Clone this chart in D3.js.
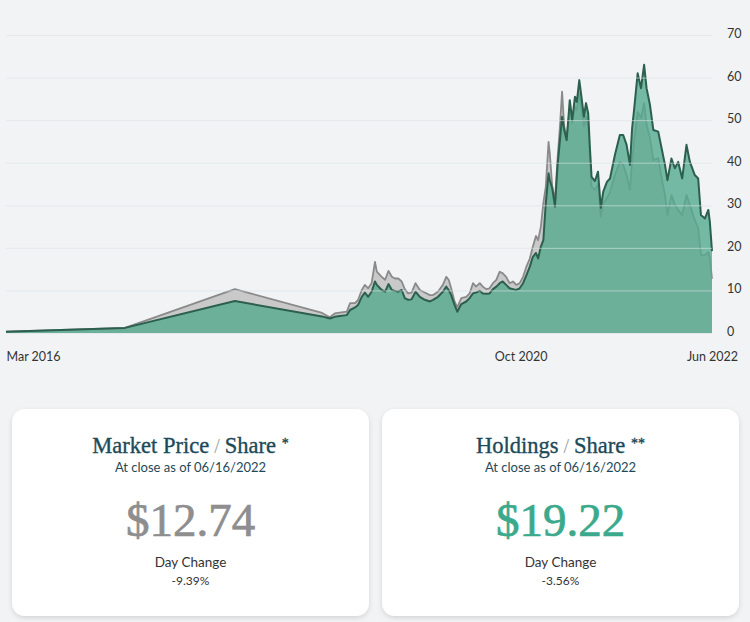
<!DOCTYPE html>
<html>
<head>
<meta charset="utf-8">
<script src="https://cdn.jsdelivr.net/npm/d3@7/dist/d3.min.js"></script>
<style>
  html, body { margin: 0; padding: 0; background: #f1f3f5; }
  svg { display: block; }
  .sans { font-family: Lato, "Open Sans", sans-serif; }
  .serif { font-family: "Liberation Serif", "DejaVu Serif", serif; }
</style>
</head>
<body>
<svg id="chart" width="750" height="622"></svg>
<script>
// ---------- DATA ----------
const dates = [
  "2016-03-01","2017-03-23","2018-03-16","2018-12-25","2019-01-19","2019-02-04","2019-02-20","2019-03-15",
  "2019-03-26","2019-04-11","2019-04-21","2019-05-03","2019-05-13","2019-05-24","2019-06-04","2019-06-15",
  "2019-06-21","2019-07-07","2019-07-18","2019-07-29","2019-08-09","2019-08-19","2019-08-30","2019-09-10",
  "2019-09-20","2019-10-01","2019-10-12","2019-10-25","2019-11-08","2019-11-24","2019-12-11","2019-12-21",
  "2020-01-06","2020-01-22","2020-02-02","2020-02-10","2020-02-18","2020-02-29","2020-03-09","2020-03-22",
  "2020-04-07","2020-04-18","2020-04-29","2020-05-09","2020-05-21","2020-05-31","2020-06-11","2020-06-22",
  "2020-07-03","2020-07-14","2020-07-25","2020-08-04","2020-08-15","2020-08-26","2020-09-06","2020-09-17",
  "2020-09-28","2020-10-09","2020-10-20","2020-10-31","2020-11-10","2020-11-20","2020-11-27","2020-12-06",
  "2020-12-14","2020-12-22","2020-12-31","2021-01-04","2021-01-12","2021-01-21","2021-01-29","2021-02-06",
  "2021-02-13","2021-02-20","2021-02-28","2021-03-10","2021-03-18","2021-03-27","2021-04-02","2021-04-10",
  "2021-04-17","2021-04-25","2021-05-02","2021-05-09","2021-05-15","2021-05-20","2021-05-31","2021-06-10",
  "2021-06-19","2021-06-27","2021-07-09","2021-07-19","2021-08-04","2021-08-20","2021-08-31","2021-09-11",
  "2021-09-22","2021-09-29","2021-10-06","2021-10-17","2021-10-28","2021-11-07","2021-11-15","2021-11-26",
  "2021-12-07","2021-12-23","2022-01-03","2022-01-14","2022-01-22","2022-02-04","2022-02-15","2022-02-26",
  "2022-03-11","2022-03-25","2022-04-05","2022-04-21","2022-05-02","2022-05-11","2022-05-24","2022-06-04",
  "2022-06-09","2022-06-16"
];
const marketPrice = [
  0.3,1.2,10.3,4.7,3.7,4.6,4.8,5.0,
  7.0,7.0,7.8,10.1,11.3,10.5,11.7,16.7,
  14.4,13.2,12.5,14.6,13.2,12.8,12.8,12.1,
  10.3,9.3,9.5,11.7,10.1,9.5,8.9,8.9,
  9.7,11.3,13.2,12.5,10.5,7.4,6.1,8.2,
  8.5,9.3,11.7,10.9,11.7,10.9,10.3,10.5,
  11.7,12.5,14.4,14.0,13.2,11.7,12.1,11.3,
  11.7,13.2,15.6,17.5,20.3,22.8,21.8,25.0,
  30.5,34.4,44.9,42.2,34.4,31.2,40.6,48.5,
  56.7,48.5,46.1,52.4,49.3,53.2,52.4,56.3,
  52.4,48.5,50.8,48.5,40.6,34.4,33.6,35.0,
  27.3,30.5,31.7,33.1,37.1,40.2,39.5,37.1,
  33.6,40.6,45.3,51.9,50.5,54.0,48.9,45.8,
  40.6,41.1,36.4,32.4,27.7,32.4,30.1,28.9,
  27.7,32.4,30.1,26.5,24.7,18.3,18.3,19.0,
  17.6,12.74
];
const holdings = [
  0.3,1.2,7.5,3.9,3.4,3.8,4.0,4.2,
  5.4,6.0,6.6,8.5,9.5,8.5,9.7,12.1,
  11.3,10.1,9.7,11.5,10.1,9.9,9.7,10.1,
  8.2,7.8,7.9,9.7,8.5,7.8,7.4,7.8,
  8.5,9.7,10.9,10.1,8.9,6.6,5.0,6.8,
  7.4,8.2,9.3,9.5,9.9,9.3,9.2,9.3,
  10.3,10.9,11.7,12.1,11.3,10.5,10.3,10.1,
  10.5,11.7,13.6,15.6,17.9,18.8,17.5,20.3,
  21.8,30.5,37.5,35.9,34.0,29.7,39.1,45.3,
  50.8,47.7,45.3,54.7,50.0,55.5,54.3,59.4,
  55.5,50.8,54.0,51.6,43.0,36.7,35.7,37.9,
  29.4,33.2,35.5,36.3,41.8,46.5,46.5,44.2,
  39.5,48.1,52.9,61.0,57.5,63.0,57.5,53.6,
  47.7,47.3,43.4,39.5,35.9,41.0,38.7,40.2,
  36.3,44.2,40.2,37.1,36.3,27.7,26.9,28.9,
  26.1,19.22
];
const yTicks = [0,10,20,30,40,50,60,70];
const xTickDates = ["2016-03-01","2020-10-01","2022-06-16"];
const xTickLabels = ["Mar 2016","Oct 2020","Jun 2022"];

const cards = [
  {title:"Market Price", suffix:"*", sub:"At close as of 06/16/2022", value:"$12.74", change:"-9.39%", color:"#8e8e8e"},
  {title:"Holdings", suffix:"**", sub:"At close as of 06/16/2022", value:"$19.22", change:"-3.56%", color:"#3ba98b"}
];

// ---------- BUILD ----------
const parse = d3.timeParse("%Y-%m-%d");
const rows = dates.map((d,i)=>({date:parse(d), mp:marketPrice[i], nav:holdings[i]}));

const svg = d3.select("#chart");
const defs = svg.append("defs");
const f = defs.append("filter").attr("id","shadow").attr("x","-10%").attr("y","-10%").attr("width","120%").attr("height","130%");
f.append("feDropShadow").attr("dx",0).attr("dy",2).attr("stdDeviation",2.5).attr("flood-color","#000").attr("flood-opacity",0.13);

const x = d3.scaleTime().domain([parse(dates[0]), parse(dates[dates.length-1])]).range([6,712]);
const y = d3.scaleLinear().domain([0,70]).range([333,35]);

const areaMP = d3.area().x(d=>x(d.date)).y0(y(0)).y1(d=>y(d.mp));
const lineMP = d3.line().x(d=>x(d.date)).y(d=>y(d.mp));
const areaNAV = d3.area().x(d=>x(d.date)).y0(y(0)).y1(d=>y(d.nav));
const lineNAV = d3.line().x(d=>x(d.date)).y(d=>y(d.nav));

const plot = svg.append("g");
plot.append("path").datum(rows).attr("d",areaMP).attr("fill","#c9c9c9");
plot.append("path").datum(rows).attr("d",lineMP).attr("fill","none").attr("stroke","#8a8a8a").attr("stroke-width",1.8).attr("stroke-linejoin","round");
plot.append("path").datum(rows).attr("d",areaNAV).attr("fill","#55aa8e").attr("fill-opacity",0.8);
plot.append("path").datum(rows).attr("d",lineNAV).attr("fill","none").attr("stroke","#2c5f4d").attr("stroke-width",2).attr("stroke-linejoin","round");

// gridlines on top
const grid = svg.append("g").attr("transform","translate(6,0)")
  .call(d3.axisLeft(y).tickValues(yTicks).tickSize(-706).tickFormat(""));
grid.select(".domain").remove();
grid.selectAll(".tick line").attr("stroke","#dde2e6").attr("stroke-opacity",0.6).attr("stroke-width",1);

// y axis labels (right)
const ya = svg.append("g").attr("transform","translate(727,0)")
  .call(d3.axisRight(y).tickValues(yTicks).tickSize(0).tickPadding(0).tickFormat(d3.format("d")));
ya.select(".domain").remove();
ya.selectAll("text").attr("class","sans").attr("font-size",12.5).attr("fill","#333").attr("text-anchor","start").attr("dy","0.2em");

// x axis labels
const xa = svg.append("g").attr("transform","translate(0,352)")
  .call(d3.axisBottom(x).tickValues(xTickDates.map(parse)).tickSize(0).tickPadding(0)
        .tickFormat((d,i)=>xTickLabels[i]));
xa.select(".domain").remove();
xa.selectAll("text").attr("class","sans").attr("font-size",12.5).attr("fill","#333");
xa.selectAll(".tick").filter((d,i)=>i===0).select("text").attr("text-anchor","start");

// ---------- CARDS ----------
const cardX = [12, 382], cardW = 357, cardY = 409, cardH = 207;
cards.forEach((c,i)=>{
  const g = svg.append("g").attr("transform",`translate(${cardX[i]},${cardY})`);
  g.append("rect").attr("width",cardW).attr("height",cardH).attr("rx",13).attr("fill","#fff").attr("filter","url(#shadow)");
  const cx = cardW/2;
  const t = g.append("text").attr("class","serif").attr("x",cx).attr("y",44).attr("text-anchor","middle")
    .attr("font-size",22.5).attr("fill","#1d4a59").attr("stroke","#1d4a59").attr("stroke-width",0.35);
  t.append("tspan").text(c.title);
  t.append("tspan").attr("fill","#9aa3a8").attr("stroke","none").attr("font-size",20).text(" / ");
  t.append("tspan").text("Share ");
  t.append("tspan").attr("font-size",14).attr("dy",-5).text(c.suffix);
  g.append("text").attr("class","sans").attr("x",cx).attr("y",63).attr("text-anchor","middle")
    .attr("font-size",13).attr("fill","#1d4a59").text(c.sub);
  g.append("text").attr("class","serif").attr("x",cx).attr("y",127).attr("text-anchor","middle")
    .attr("font-size",47).attr("fill",c.color).attr("stroke",c.color).attr("stroke-width",0.7).text(c.value);
  g.append("text").attr("class","sans").attr("x",cx).attr("y",158).attr("text-anchor","middle")
    .attr("font-size",13.5).attr("fill","#333").text("Day Change");
  g.append("text").attr("class","sans").attr("x",cx).attr("y",176).attr("text-anchor","middle")
    .attr("font-size",12).attr("fill","#333").text(c.change);
});
</script>
</body>
</html>
